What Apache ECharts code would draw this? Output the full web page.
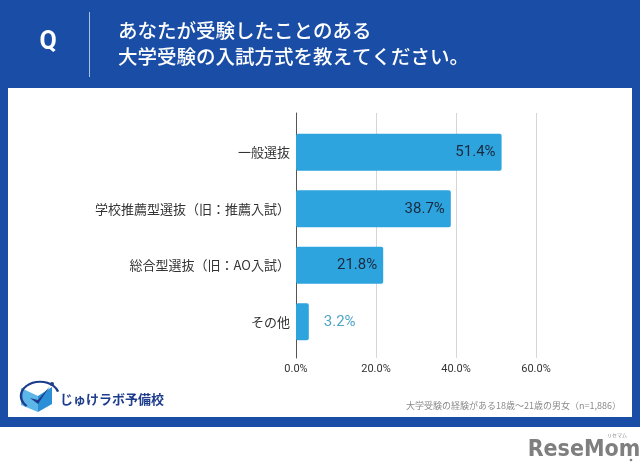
<!DOCTYPE html>
<html>
<head>
<meta charset="utf-8">
<script src="https://cdn.jsdelivr.net/npm/echarts@6/dist/echarts.min.js"></script>
<style>
html,body{margin:0;padding:0;background:#fff;}
#c{width:640px;height:475px;}
</style>
</head>
<body>
<div id="c"></div>
<script>
const categories = ['一般選抜', '学校推薦型選抜（旧：推薦入試）', '総合型選抜（旧：AO入試）', 'その他'];
const values = [51.4, 38.7, 21.8, 3.2];
const xTicks = [0, 20, 40, 60];
const titleLines = ['あなたが受験したことのある', '大学受験の入試方式を教えてください。'];
const footnote = '大学受験の経験がある18歳～21歳の男女（n=1,886）';
const logoText = 'じゅけラボ予備校';

const JP = '"Noto Sans CJK JP", "Noto Sans", sans-serif';
const BLUE = '#1a4ea6';

const chart = echarts.init(document.getElementById('c'), null, {renderer: 'canvas'});

const barData = values.map(v => {
  const inside = v >= 10;
  return {
    value: v,
    label: inside
      ? {position: 'insideRight', distance: 6, color: '#1b2a3e'}
      : {position: 'right', distance: 15, color: '#4ea5c6'}
  };
});

const option = {
  backgroundColor: '#ffffff',
  animation: false,
  graphic: [
    {type: 'rect', z: -20, shape: {x: 0, y: 0, width: 640, height: 427}, style: {fill: BLUE}},
    {type: 'rect', z: -19, shape: {x: 8, y: 88, width: 624, height: 329}, style: {fill: '#ffffff'}},
    {type: 'text', z: 10, style: {x: 48, y: 43, text: 'Q', fill: '#ffffff', fontSize: 25, fontWeight: 'bold', fontFamily: 'Roboto, "Noto Sans", sans-serif', textAlign: 'center', textVerticalAlign: 'middle'}},
    {type: 'line', z: 10, shape: {x1: 89.5, y1: 12, x2: 89.5, y2: 77}, style: {stroke: 'rgba(255,255,255,0.65)', lineWidth: 1}},
    {type: 'text', z: 10, style: {x: 118, y: 31, text: titleLines[0], fill: '#ffffff', font: '500 19.5px ' + JP, textAlign: 'left', textVerticalAlign: 'middle'}},
    {type: 'text', z: 10, style: {x: 118, y: 57, text: titleLines[1], fill: '#ffffff', font: '500 19.5px ' + JP, textAlign: 'left', textVerticalAlign: 'middle'}},
    // logo icon
    {type: 'polygon', z: 10, shape: {points: [[21,388],[38,396],[38,412],[21,405]]}, style: {fill: '#5db6e8'}},
    {type: 'polygon', z: 10, shape: {points: [[38,396],[52,387],[52,404],[38,412]]}, style: {fill: '#2b8fd8'}},
    {type: 'polygon', z: 11, shape: {points: [[30,398],[38,404],[50,386],[38,400]]}, style: {fill: '#1d3c8c'}},
    {type: 'arc', z: 11, scaleY: 0.75, originX: 40, originY: 396, shape: {cx: 40, cy: 396, r: 19, startAngle: Math.PI * 0.75, endAngle: Math.PI * 1.9, clockwise: true}, style: {stroke: '#1d3c8c', lineWidth: 2.5, fill: null}},
    {type: 'circle', z: 11, shape: {cx: 52, cy: 384, r: 2}, style: {fill: '#1d3c8c'}},
    {type: 'text', z: 10, style: {x: 60, y: 399, text: logoText, fill: '#1d3c8c', font: 'bold 13px ' + JP, textAlign: 'left', textVerticalAlign: 'middle'}},
    {type: 'text', z: 10, style: {x: 621, y: 406, text: footnote, fill: '#8a8a8a', font: '9px ' + JP, textAlign: 'right', textVerticalAlign: 'middle'}},
    // ReseMom logo
    {type: 'text', z: 10, style: {x: 584, y: 450, text: 'ReseMom', fill: '#7f7f7f', font: 'bold 23px "DejaVu Sans Condensed", "DejaVu Sans", sans-serif', textAlign: 'center', textVerticalAlign: 'middle'}},
    {type: 'text', z: 10, style: {x: 617, y: 435, text: 'リセマム', fill: '#8a8a8a', font: '5px ' + JP, textAlign: 'center', textVerticalAlign: 'middle'}},
    {type: 'circle', z: 10, shape: {cx: 631, cy: 460, r: 1.3}, style: {fill: '#7f7f7f'}}
  ],
  grid: [
    {left: 296, width: 240, top: 113, height: 245, containLabel: false},
    {left: 296, width: 240, top: 124, height: 226, containLabel: false}
  ],
  xAxis: [
    {
      gridIndex: 0, type: 'value', min: 0, max: 60, interval: 20,
      axisLine: {show: false}, axisTick: {show: false},
      splitLine: {show: true, lineStyle: {color: '#d6d6d6', width: 1}},
      axisLabel: {
        margin: 6, color: '#333', fontSize: 11, fontFamily: 'Roboto, "Noto Sans", sans-serif',
        formatter: v => (xTicks.indexOf(v) >= 0 ? v.toFixed(1) + '%' : '')
      }
    },
    {
      gridIndex: 1, type: 'value', min: 0, max: 60, interval: 20, show: false,
      splitLine: {show: false}
    }
  ],
  yAxis: [
    {
      gridIndex: 0, type: 'value', min: 0, max: 1,
      axisLine: {show: true, lineStyle: {color: '#555', width: 1}},
      axisTick: {show: false}, axisLabel: {show: false}, splitLine: {show: false}
    },
    {
      gridIndex: 1, type: 'category', data: categories, inverse: true,
      axisLine: {show: false}, axisTick: {show: false}, splitLine: {show: false},
      axisLabel: {margin: 6, color: '#333', fontSize: 13, fontFamily: JP}
    }
  ],
  series: [
    {
      type: 'bar', xAxisIndex: 1, yAxisIndex: 1, data: barData,
      barWidth: 37,
      itemStyle: {color: '#2ea4de', borderRadius: 2},
      label: {
        show: true, fontSize: 15, fontFamily: 'Roboto, "Noto Sans", sans-serif',
        formatter: p => p.value.toFixed(1) + '%'
      },
      z: 5
    }
  ]
};

chart.setOption(option);
</script>
</body>
</html>
